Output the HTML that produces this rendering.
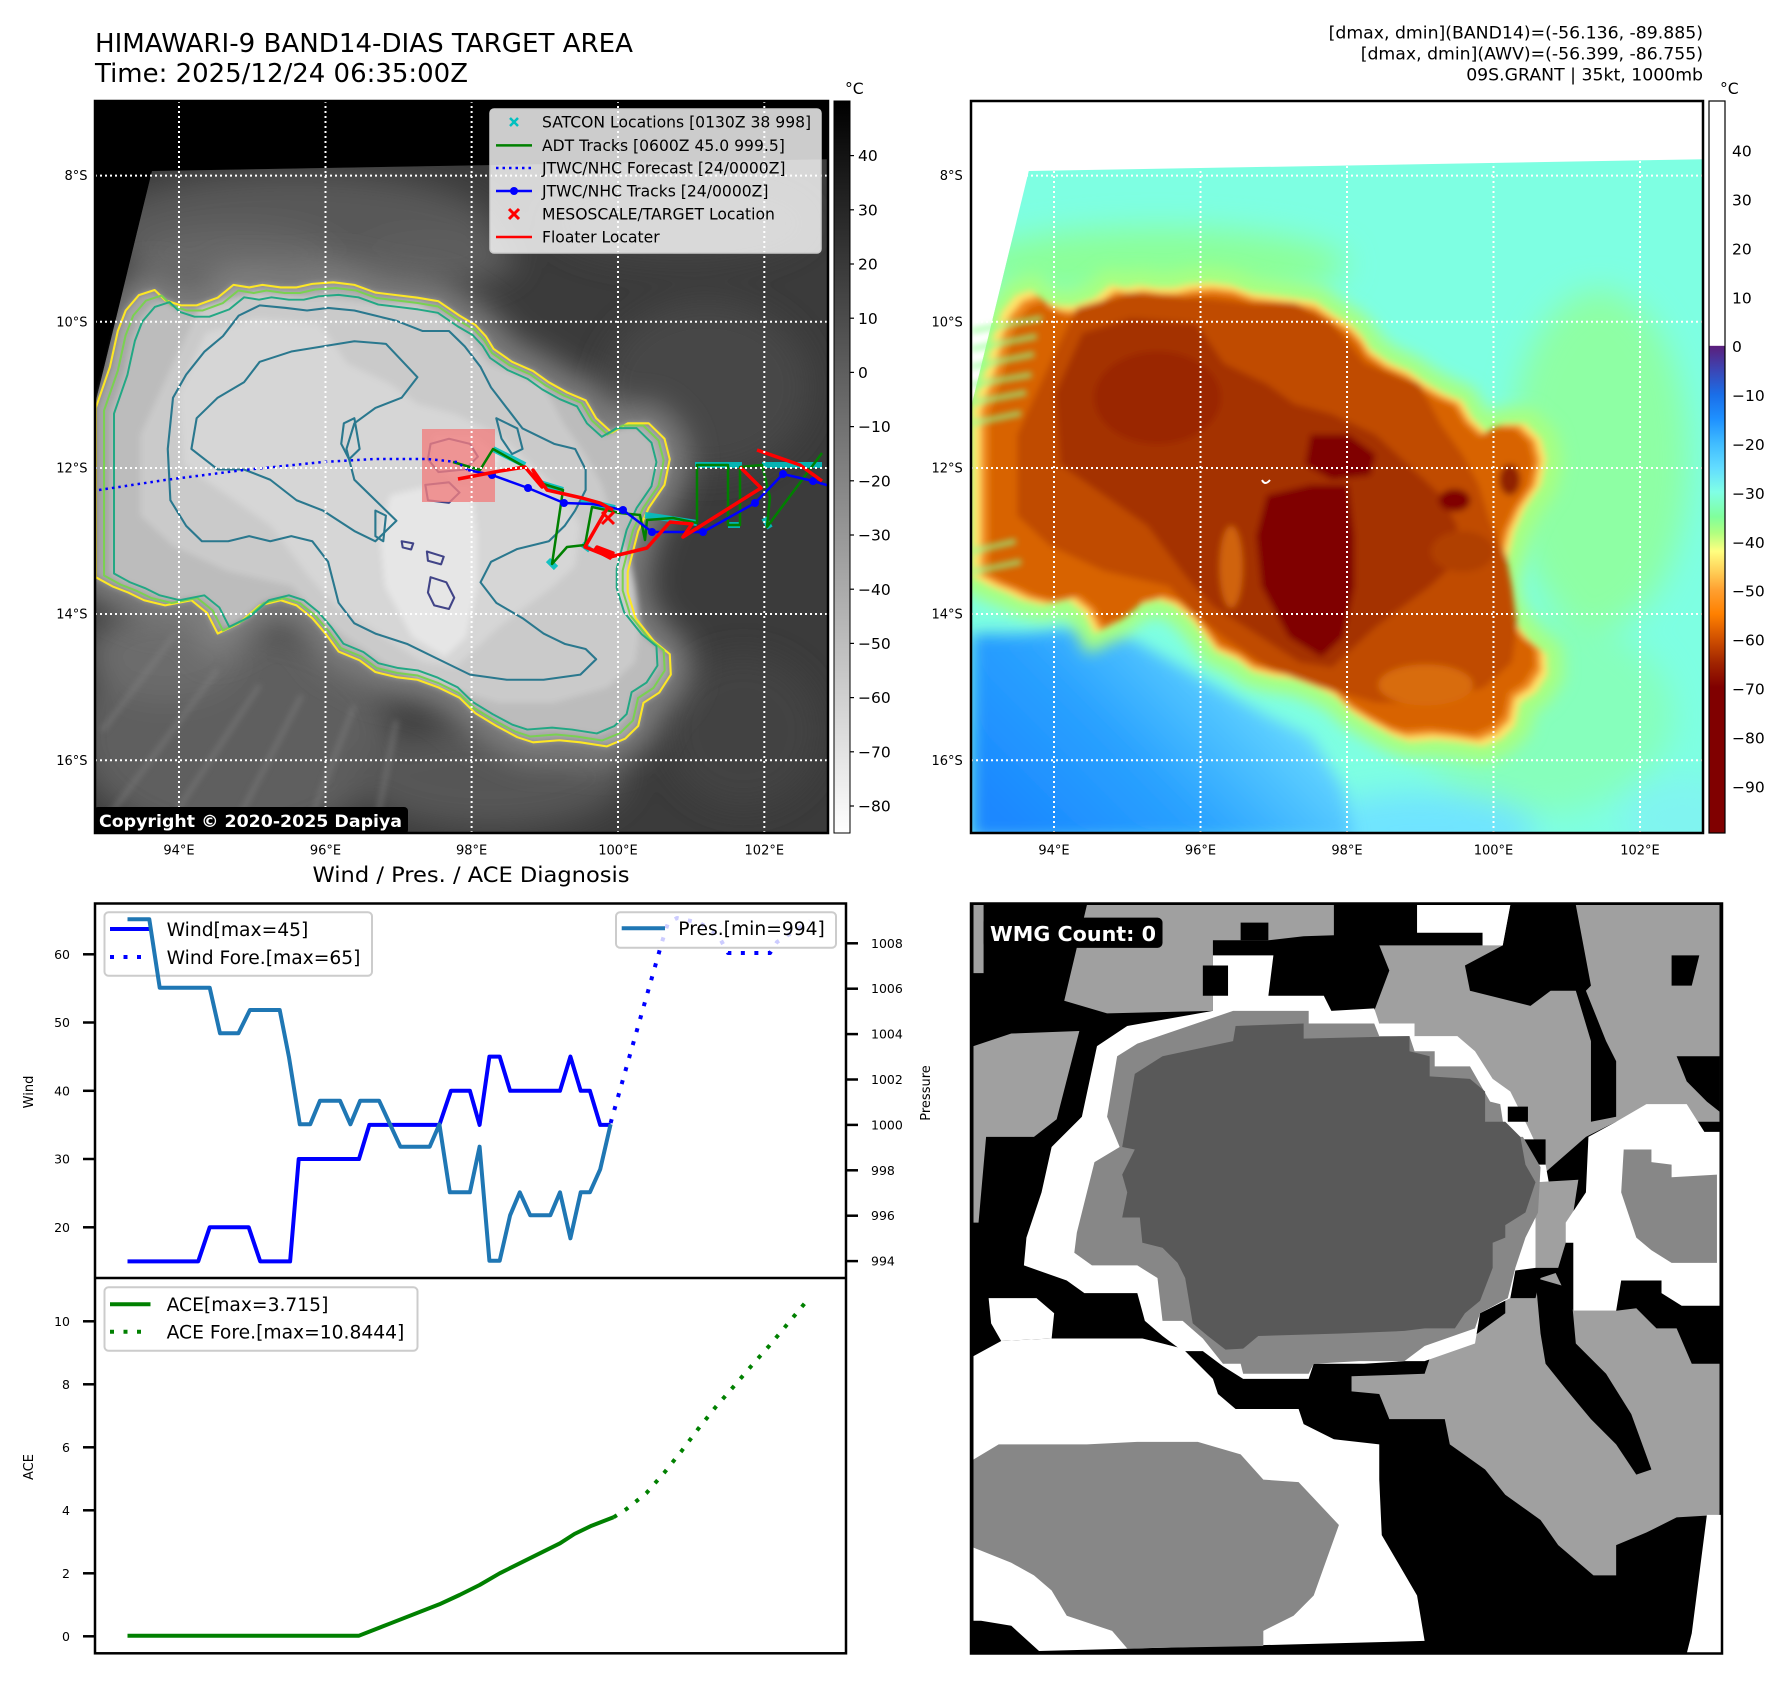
<!DOCTYPE html>
<html><head><meta charset="utf-8">
<style>html,body{margin:0;padding:0;background:#fff;}svg{display:block;font-family:"DejaVu Sans","Liberation Sans",sans-serif;}</style>
</head><body>
<svg width="1788" height="1690" viewBox="0 0 1788 1690" xmlns="http://www.w3.org/2000/svg">
<defs>
 <linearGradient id="cbGray" x1="0" y1="0" x2="0" y2="1"><stop offset="0" stop-color="#000"/><stop offset="1" stop-color="#fff"/></linearGradient>
 <linearGradient id="cbJet" x1="0" y1="0" x2="0" y2="1">
  <stop offset="0" stop-color="#fff"/><stop offset="0.334" stop-color="#fff"/>
  <stop offset="0.335" stop-color="#5b1f7c"/><stop offset="0.367" stop-color="#3c45b4"/>
  <stop offset="0.401" stop-color="#1a6ee8"/><stop offset="0.434" stop-color="#1e90ff"/>
  <stop offset="0.468" stop-color="#40bcff"/><stop offset="0.501" stop-color="#62dcff"/>
  <stop offset="0.534" stop-color="#80ffe6"/><stop offset="0.568" stop-color="#80ff9c"/>
  <stop offset="0.59" stop-color="#b0ff80"/><stop offset="0.615" stop-color="#ffff80"/>
  <stop offset="0.642" stop-color="#ffd058"/><stop offset="0.668" stop-color="#ffa030"/>
  <stop offset="0.701" stop-color="#ff8000"/><stop offset="0.735" stop-color="#d05000"/>
  <stop offset="0.768" stop-color="#a02400"/><stop offset="0.801" stop-color="#800000"/>
  <stop offset="1" stop-color="#800000"/>
 </linearGradient>
 <linearGradient id="blueG" gradientUnits="userSpaceOnUse" x1="150" y1="1440" x2="520" y2="1080">
  <stop offset="0" stop-color="#1a88ff"/><stop offset="0.5" stop-color="#2aa2ff"/><stop offset="1" stop-color="#62d4ff"/>
 </linearGradient>
 <filter id="b6" x="-20%" y="-20%" width="140%" height="140%"><feGaussianBlur stdDeviation="6"/></filter>
 <filter id="b15" x="-30%" y="-30%" width="160%" height="160%"><feGaussianBlur stdDeviation="15"/></filter>
 <filter id="b30" x="-40%" y="-40%" width="180%" height="180%"><feGaussianBlur stdDeviation="30"/></filter>
 <clipPath id="mclip"><rect x="65" y="22" width="1395" height="1426"/></clipPath>
 <clipPath id="dpclip"><path d="M175,158 L1460,135 1460,1448 65,1448 65,620 Z"/></clipPath>
 <clipPath id="wclip"><rect x="20" y="27" width="1490" height="1488"/></clipPath>
 <clipPath id="lmclip"><rect x="95" y="101" width="733" height="732"/></clipPath>
 <clipPath id="llclip"><rect x="95" y="903" width="751" height="750"/></clipPath>
 <path id="Y" d="M68,620 L95,540 110,470 125,430 150,400 180,390 200,410 230,420 260,420 300,405 330,380 360,385 385,380 420,385 450,385 480,378 520,375 560,380 600,395 640,400 680,405 720,412 760,440 790,458 810,480 825,505 860,530 900,548 930,570 965,590 1000,605 1020,640 1050,668 1080,650 1120,650 1150,680 1160,720 1150,770 1120,815 1100,860 1090,900 1080,940 1080,980 1095,1030 1130,1075 1160,1100 1162,1140 1140,1175 1110,1195 1100,1240 1075,1265 1040,1280 990,1272 950,1268 900,1272 870,1262 830,1240 790,1215 760,1185 720,1165 680,1150 640,1145 600,1135 570,1112 530,1095 505,1060 480,1030 450,1005 420,995 380,1005 340,1040 300,1060 280,1020 250,995 200,1005 160,995 130,980 100,968 68,950 Z"/>
 <path id="B" d="M215,533 L266,425 370,395 494,405 587,415 680,415 752,454 814,533 918,573 959,652 1000,711 1031,770 1052,840 1083,909 1094,968 1104,1047 1094,1116 1042,1165 938,1195 835,1195 732,1165 628,1126 545,1067 483,1017 442,968 318,938 215,889 153,830 153,672 Z"/>
 <path id="D" d="M225,593 L277,474 370,445 494,455 546,533 628,573 680,612 752,632 835,672 897,731 959,790 990,850 980,928 938,968 887,1007 835,1047 794,1086 752,1126 690,1116 587,1047 525,1007 473,948 401,850 318,790 235,731 Z"/>
 <path id="CORE" d="M628,790 L711,770 783,770 794,869 794,968 773,1067 732,1106 670,1067 618,968 608,869 Z M711,672 L783,672 835,711 825,751 752,760 701,731 Z"/>
 <path id="DP" d="M175,158 L1460,135 1460,1448 65,1448 65,620 Z"/>
</defs>

<!-- ================= TITLES ================= -->
<text x="95" y="52" font-size="26" textLength="538" lengthAdjust="spacingAndGlyphs">HIMAWARI-9 BAND14-DIAS TARGET AREA</text>
<text x="95" y="82" font-size="26" textLength="373" lengthAdjust="spacingAndGlyphs">Time: 2025/12/24 06:35:00Z</text>
<g font-size="17.3" text-anchor="end">
<text x="1703" y="38.5">[dmax, dmin](BAND14)=(-56.136, -89.885)</text>
<text x="1703" y="59.5">[dmax, dmin](AWV)=(-56.399, -86.755)</text>
<text x="1703" y="80.5">09S.GRANT | 35kt, 1000mb</text>
</g>
<text x="845" y="94" font-size="15.6">°C</text>
<text x="1720" y="94" font-size="15.6">°C</text>

<!-- ================= LEFT MAP ================= -->
<svg x="60" y="90" width="820" height="800" viewBox="0 0 1560 1560" preserveAspectRatio="none">
<g clip-path="url(#mclip)">
 <rect x="0" y="0" width="1560" height="1560" fill="#000"/>
 <use href="#DP" fill="#3b3b3b"/>
 <g clip-path="url(#dpclip)">
 <g filter="url(#b30)">
  <ellipse cx="450" cy="270" rx="380" ry="110" fill="#585858"/>
  <ellipse cx="330" cy="330" rx="200" ry="60" fill="#676767"/>
  <ellipse cx="720" cy="330" rx="150" ry="50" fill="#5e5e5e"/>
  <ellipse cx="1230" cy="580" rx="200" ry="170" fill="#464646"/>
  <ellipse cx="1180" cy="260" rx="250" ry="80" fill="#434343"/>
  <ellipse cx="330" cy="1260" rx="300" ry="210" fill="#5f5f5f"/>
  <ellipse cx="200" cy="1100" rx="150" ry="90" fill="#6c6c6c"/>
  <ellipse cx="820" cy="1340" rx="260" ry="100" fill="#575757"/>
  <ellipse cx="1300" cy="1250" rx="150" ry="150" fill="#424242"/>
 </g>
 <g stroke="#8a8a8a" stroke-width="7" opacity="0.55" filter="url(#b6)">
  <line x1="90" y1="1420" x2="300" y2="1130"/><line x1="200" y1="1440" x2="380" y2="1160"/>
  <line x1="330" y1="1440" x2="460" y2="1180"/><line x1="470" y1="1440" x2="560" y2="1200"/>
  <line x1="600" y1="1440" x2="640" y2="1230"/><line x1="80" y1="1250" x2="220" y2="1060"/>
 </g>
 <use href="#Y" fill="none" stroke="#858585" stroke-width="70" filter="url(#b30)"/>
 </g>
 <g filter="url(#b6)">
  <use href="#Y" fill="#a6a6a6"/>
  <use href="#Y" fill="#bcbcbc" transform="translate(680 820) scale(0.955) translate(-680 -820)"/>
  <use href="#B" fill="#cacaca"/>
  <use href="#D" fill="#d6d6d6"/>
  <use href="#CORE" fill="#e6e6e6"/>
 </g>
 <!-- contours -->
 <g fill="none" stroke-width="4" stroke-linejoin="round">
  <use href="#Y" stroke="#fde725"/>
  <use href="#Y" stroke="#7ad151" transform="translate(700 820) scale(0.975) translate(-700 -820)"/>
  <use href="#Y" stroke="#22a884" transform="translate(700 820) scale(0.945) translate(-700 -820)"/>
  <path stroke="#2a788e" d="M205,700 L215,600 240,555 275,510 310,480 340,440 380,420 430,425 470,430 510,425 560,430 600,440 640,450 690,470 740,470 770,500 800,540 820,580 850,620 880,660 940,690 980,700 1000,740 1000,780 980,820 960,850 930,880 870,895 820,920 800,960 830,1000 880,1030 920,1060 960,1080 1000,1090 1020,1110 990,1140 920,1150 850,1150 780,1140 720,1110 660,1080 600,1060 560,1040 530,1000 520,960 510,920 480,880 440,870 400,880 360,870 320,880 270,880 240,850 210,800 Z"/>
  <path stroke="#2a788e" d="M250,700 L260,640 300,600 350,570 380,530 440,510 500,500 560,490 620,495 680,560 650,600 600,620 560,650 545,700 560,760 600,800 640,840 600,880 560,860 500,820 450,800 400,760 350,740 300,740 Z"/>
  <path stroke="#2a788e" d="M540,650 L560,640 570,700 550,720 535,690 Z M600,820 L620,830 615,880 600,870 Z M830,640 L870,660 880,700 860,710 840,680 Z"/>
  <path stroke="#414487" d="M705,690 L740,680 780,690 795,715 770,740 720,745 700,720 Z M695,770 L740,765 760,785 740,805 700,800 Z M650,880 L672,884 668,896 652,892 Z M698,900 L730,910 725,925 700,918 Z M705,950 L735,960 750,990 740,1012 712,1005 700,980 Z"/>
 </g>
</g>
</svg>
<!-- pink mesoscale box -->
<rect x="422" y="429" width="73" height="73" fill="#f08080" opacity="0.8"/>
<!-- tracks -->
<g clip-path="url(#lmclip)" fill="none" stroke-linejoin="round">
 <g stroke="#00c0c0" stroke-width="6" opacity="0.9">
  <polyline points="493,449 525,465"/><polyline points="540,483 563,490"/>
  <polyline points="645,515 697,523"/><polyline points="695,465 742,465"/>
  <polyline points="762,465 822,465"/><polyline points="728,525 740,525"/>
  <polyline points="581,500 615,508"/><polyline points="764,518 770,528"/>
  <polyline points="548,560 556,568"/><polyline points="582,544 590,550"/>
 </g>
 <polyline stroke="#008000" stroke-width="2.5" points="453,462 480,470 493,449 525,467 540,483 563,490 552,564 567,547 585,545 592,507 620,513 640,515 645,540 647,520 673,518 697,523 697,465 728,465 728,525 740,525 740,467 762,465 770,497 767,527 822,453"/>
 <polyline stroke="#0000ff" stroke-width="2.5" stroke-dasharray="2.5 4" points="99,490 165,480 244,470 323,462 375,459 428,459 457,462 468,470"/>
 <polyline stroke="#0000ff" stroke-width="2.5" points="468,470 492,475 528,488 564,503 593,504 623,510 652,532 703,532 755,503 783,474 813,481 830,486"/>
 <g fill="#0000ff" stroke="none">
  <circle cx="492" cy="475" r="4"/><circle cx="528" cy="488" r="4"/><circle cx="564" cy="503" r="4"/>
  <circle cx="623" cy="510" r="4"/><circle cx="652" cy="532" r="4"/><circle cx="703" cy="532" r="4"/>
  <circle cx="755" cy="503" r="4"/><circle cx="783" cy="474" r="4"/><circle cx="813" cy="481" r="4"/>
 </g>
 <g stroke="#ff0000" stroke-width="3.5">
  <polyline points="458,479 500,471 525,467 542,487 533,470 547,490 582,498 600,503 613,510"/>
  <polyline points="608,507 585,547 610,557 647,548 670,522 692,524 683,537 761,488 740,467"/>
  <polyline points="757,450 800,465 822,481"/>
  <polygon fill="#ff0000" points="597,547 613,553 610,558 595,550"/>
  <path d="M602,512 L614,524 M614,512 L602,524" stroke-width="3"/>
 </g>
</g>
<!-- left map grid -->
<g stroke="#fff" stroke-width="2" stroke-dasharray="2 3" clip-path="url(#lmclip)">
 <line x1="179" y1="101" x2="179" y2="833"/><line x1="325.5" y1="101" x2="325.5" y2="833"/>
 <line x1="471.6" y1="101" x2="471.6" y2="833"/><line x1="618" y1="101" x2="618" y2="833"/>
 <line x1="764.3" y1="101" x2="764.3" y2="833"/>
 <line x1="95" y1="175.6" x2="828" y2="175.6"/><line x1="95" y1="321.8" x2="828" y2="321.8"/>
 <line x1="95" y1="468" x2="828" y2="468"/><line x1="95" y1="614" x2="828" y2="614"/>
 <line x1="95" y1="760.2" x2="828" y2="760.2"/>
</g>
<!-- legend -->
<rect x="490" y="109" width="331" height="144" rx="4" fill="#fff" fill-opacity="0.8" stroke="#cccccc" stroke-width="1.5"/>
<g font-size="15.6">
 <path d="M510,118 L518,126 M518,118 L510,126" stroke="#00c0c0" stroke-width="2.5"/>
 <text x="542" y="127.7">SATCON Locations [0130Z 38 998]</text>
 <line x1="496" y1="145.4" x2="532" y2="145.4" stroke="#008000" stroke-width="2.5"/>
 <text x="542" y="151.1">ADT Tracks [0600Z 45.0 999.5]</text>
 <line x1="496" y1="168" x2="532" y2="168" stroke="#0000ff" stroke-width="2.5" stroke-dasharray="2.5 4"/>
 <text x="542" y="173.7">JTWC/NHC Forecast [24/0000Z]</text>
 <line x1="496" y1="191" x2="532" y2="191" stroke="#0000ff" stroke-width="2.5"/>
 <circle cx="514" cy="191" r="4" fill="#0000ff"/>
 <text x="542" y="196.7">JTWC/NHC Tracks [24/0000Z]</text>
 <path d="M509,209 L519,219 M519,209 L509,219" stroke="#ff0000" stroke-width="3"/>
 <text x="542" y="219.7">MESOSCALE/TARGET Location</text>
 <line x1="496" y1="237" x2="532" y2="237" stroke="#ff0000" stroke-width="2.5"/>
 <text x="542" y="242.7">Floater Locater</text>
</g>
<!-- copyright -->
<rect x="94" y="807" width="314" height="27" rx="4" fill="#000"/>
<text x="99" y="827" font-size="17.3" font-weight="bold" fill="#fff" textLength="303" lengthAdjust="spacingAndGlyphs">Copyright © 2020-2025 Dapiya</text>
<rect x="95" y="101" width="733" height="732" fill="none" stroke="#000" stroke-width="2.5"/>
<!-- left colorbar -->
<rect x="834" y="101" width="16" height="732" fill="url(#cbGray)" stroke="#000" stroke-width="1"/>
<g stroke="#000" stroke-width="1.2">
 <line x1="850" y1="155.6" x2="854" y2="155.6"/><line x1="850" y1="209.8" x2="854" y2="209.8"/>
 <line x1="850" y1="264" x2="854" y2="264"/><line x1="850" y1="318.2" x2="854" y2="318.2"/>
 <line x1="850" y1="372.4" x2="854" y2="372.4"/><line x1="850" y1="426.6" x2="854" y2="426.6"/>
 <line x1="850" y1="480.8" x2="854" y2="480.8"/><line x1="850" y1="535" x2="854" y2="535"/>
 <line x1="850" y1="589.2" x2="854" y2="589.2"/><line x1="850" y1="643.4" x2="854" y2="643.4"/>
 <line x1="850" y1="697.6" x2="854" y2="697.6"/><line x1="850" y1="751.8" x2="854" y2="751.8"/>
 <line x1="850" y1="806" x2="854" y2="806"/>
</g>
<g font-size="15.5">
 <text x="858" y="161.2">40</text><text x="858" y="215.4">30</text><text x="858" y="269.6">20</text>
 <text x="858" y="323.8">10</text><text x="858" y="378">0</text><text x="858" y="432.2">−10</text>
 <text x="858" y="486.4">−20</text><text x="858" y="540.6">−30</text><text x="858" y="594.8">−40</text>
 <text x="858" y="649">−50</text><text x="858" y="703.2">−60</text><text x="858" y="757.4">−70</text>
 <text x="858" y="811.6">−80</text>
</g>
<!-- map ticks -->
<g font-size="13" text-anchor="end">
 <text x="87.5" y="180.2">8°S</text><text x="87.5" y="326.4">10°S</text><text x="87.5" y="472.6">12°S</text>
 <text x="87.5" y="618.6">14°S</text><text x="87.5" y="764.8">16°S</text>
 <text x="962.8" y="180.2">8°S</text><text x="962.8" y="326.4">10°S</text><text x="962.8" y="472.6">12°S</text>
 <text x="962.8" y="618.6">14°S</text><text x="962.8" y="764.8">16°S</text>
</g>
<g font-size="13" text-anchor="middle">
 <text x="179" y="854.5">94°E</text><text x="325.5" y="854.5">96°E</text><text x="471.6" y="854.5">98°E</text>
 <text x="618" y="854.5">100°E</text><text x="764.3" y="854.5">102°E</text>
 <text x="1054" y="854.5">94°E</text><text x="1200.5" y="854.5">96°E</text><text x="1347" y="854.5">98°E</text>
 <text x="1493.5" y="854.5">100°E</text><text x="1640" y="854.5">102°E</text>
</g>

<!-- ================= RIGHT MAP ================= -->
<svg x="936.8" y="90" width="820" height="800" viewBox="0 0 1560 1560" preserveAspectRatio="none">
<g clip-path="url(#mclip)">
 <rect x="0" y="0" width="1560" height="1560" fill="#fff"/>
 <use href="#DP" fill="#7effe2"/>
 <g clip-path="url(#dpclip)">
 <g filter="url(#b30)">
  <ellipse cx="420" cy="340" rx="360" ry="70" fill="#8cff98"/>
  <ellipse cx="1260" cy="720" rx="170" ry="330" fill="#8effa4"/>
  <ellipse cx="1150" cy="1220" rx="250" ry="190" fill="#86ffbc"/>
  <ellipse cx="920" cy="1440" rx="220" ry="70" fill="#70e4ff"/>
  <ellipse cx="1420" cy="1420" rx="120" ry="80" fill="#80f4f0"/>
 </g>
 <path d="M65,1060 L163,1060 318,1040 422,1100 525,1160 628,1220 711,1260 773,1360 794,1460 65,1460 Z" fill="url(#blueG)" filter="url(#b15)"/>
 <use href="#Y" fill="none" stroke="#a8ff80" stroke-width="60" filter="url(#b15)"/>
 </g>
 <g filter="url(#b6)">
  <use href="#Y" fill="#ffe46a"/>
  <use href="#Y" fill="#f08a1c" transform="translate(680 820) scale(0.975) translate(-680 -820)"/>
  <use href="#Y" fill="#d86400" transform="translate(680 820) scale(0.95) translate(-680 -820)"/>
  <use href="#B" fill="#c04c00"/>
  <use href="#D" fill="#a43000"/>
  <use href="#CORE" fill="#800000"/>
  <ellipse cx="560" cy="930" rx="22" ry="80" fill="#d06410"/>
  <ellipse cx="930" cy="1160" rx="90" ry="40" fill="#d86c10"/>
  <ellipse cx="985" cy="800" rx="30" ry="22" fill="#800000"/>
  <ellipse cx="1090" cy="760" rx="20" ry="30" fill="#902000"/>
  <ellipse cx="1000" cy="900" rx="60" ry="40" fill="#b04000"/>
  <ellipse cx="420" cy="600" rx="120" ry="90" fill="#9a2800"/>
 </g>
 <g stroke="#90ff90" stroke-width="10" opacity="0.75" filter="url(#b6)">
  <line x1="66" y1="470" x2="200" y2="445"/><line x1="66" y1="505" x2="190" y2="480"/>
  <line x1="66" y1="540" x2="185" y2="515"/><line x1="66" y1="575" x2="180" y2="555"/>
  <line x1="66" y1="610" x2="170" y2="590"/><line x1="66" y1="650" x2="160" y2="630"/>
  <line x1="66" y1="900" x2="150" y2="880"/><line x1="66" y1="940" x2="160" y2="920"/>
 </g>
</g>
</svg>
<g stroke="#fff" stroke-width="2" stroke-dasharray="2 3">
 <line x1="1054" y1="101" x2="1054" y2="833"/><line x1="1200.5" y1="101" x2="1200.5" y2="833"/>
 <line x1="1347" y1="101" x2="1347" y2="833"/><line x1="1493.5" y1="101" x2="1493.5" y2="833"/>
 <line x1="1640" y1="101" x2="1640" y2="833"/>
 <line x1="971" y1="175.6" x2="1703" y2="175.6"/><line x1="971" y1="321.8" x2="1703" y2="321.8"/>
 <line x1="971" y1="468" x2="1703" y2="468"/><line x1="971" y1="614" x2="1703" y2="614"/>
 <line x1="971" y1="760.2" x2="1703" y2="760.2"/>
</g>
<path d="M1262,480 q3,6 8,0" fill="none" stroke="#fff" stroke-width="2"/>
<rect x="971" y="101" width="732" height="732" fill="none" stroke="#000" stroke-width="2.5"/>
<rect x="1709" y="101" width="16" height="732" fill="url(#cbJet)" stroke="#000" stroke-width="1.2"/>
<g font-size="15.5">
 <text x="1732" y="156.6">40</text><text x="1732" y="205.5">30</text><text x="1732" y="254.4">20</text>
 <text x="1732" y="303.3">10</text><text x="1732" y="352.2">0</text><text x="1732" y="401.1">−10</text>
 <text x="1732" y="450">−20</text><text x="1732" y="498.9">−30</text><text x="1732" y="547.8">−40</text>
 <text x="1732" y="596.7">−50</text><text x="1732" y="645.6">−60</text><text x="1732" y="694.5">−70</text>
 <text x="1732" y="743.4">−80</text><text x="1732" y="792.3">−90</text>
</g>

<!-- ================= LOWER LEFT CHART ================= -->
<text x="471" y="882" font-size="21.7" text-anchor="middle" textLength="317" lengthAdjust="spacingAndGlyphs">Wind / Pres. / ACE Diagnosis</text>
<g clip-path="url(#llclip)" fill="none" stroke-linejoin="round">
 <polyline stroke="#0000ff" stroke-width="4" points="127.5,1261.4 198.2,1261.4 209.7,1227.3 248.7,1227.3 260.2,1261.4 290.1,1261.4 298.7,1159 359,1159 369.3,1124.9 439.4,1124.9 450.9,1090.8 469.9,1090.8 479.6,1124.9 489.4,1056.6 499.7,1056.6 510.1,1090.8 560,1090.8 570.4,1056.6 580.7,1090.8 589.9,1090.8 600.2,1124.9 610.6,1124.9"/>
 <polyline stroke="#0000ff" stroke-width="4" stroke-dasharray="4 9.5" points="610.6,1123 662,942 668,923 677,918 700,923 718,935 728,953 770,953 777,942 810,921"/>
</g>
<rect x="104.5" y="912.3" width="267.5" height="63.4" rx="4" fill="#fff" fill-opacity="0.8" stroke="#cccccc" stroke-width="2"/>
<line x1="110" y1="929" x2="150.5" y2="929" stroke="#0000ff" stroke-width="4"/>
<line x1="110" y1="957" x2="150.5" y2="957" stroke="#0000ff" stroke-width="4" stroke-dasharray="4 9.5"/>
<g font-size="18.7">
 <text x="166.6" y="935.8">Wind[max=45]</text>
 <text x="166.6" y="963.8">Wind Fore.[max=65]</text>
</g>
<g clip-path="url(#llclip)">
 <polyline fill="none" stroke="#1f77b4" stroke-width="4" stroke-linejoin="round" points="127.5,919.3 149.3,919.3 159.7,987.7 209.7,987.7 220,1033.3 238.4,1033.3 249.9,1010 279.7,1010 288.9,1056.7 299.8,1124.3 310.2,1124.3 320,1100.7 340,1100.7 350.4,1124.3 360.2,1100.7 379.1,1100.7 400.4,1146.7 429.7,1146.7 439.4,1124.3 449.8,1192.3 469.9,1192.3 479.6,1146.7 489.4,1260.7 499.7,1260.7 510.1,1215.3 519.8,1192.3 530.2,1215.3 550.3,1215.3 560,1192.3 570.4,1238.3 580.7,1192.3 589.9,1192.3 600.2,1169.3 610.6,1124.3"/>
</g>
<rect x="616" y="912.3" width="220" height="35.4" rx="4" fill="#fff" fill-opacity="0.8" stroke="#cccccc" stroke-width="2"/>
<line x1="621.7" y1="928.3" x2="665" y2="928.3" stroke="#1f77b4" stroke-width="4"/>
<text x="678.3" y="935" font-size="18.7">Pres.[min=994]</text>
<g clip-path="url(#llclip)" fill="none" stroke-linejoin="round">
 <polyline stroke="#008000" stroke-width="4" points="127.5,1635.7 359,1635.7 390.6,1623.3 439.4,1604.3 459.5,1595 479.6,1585 499.7,1573.3 560,1543.3 574.4,1534 591.6,1525.7 613.5,1517.3"/>
 <polyline stroke="#008000" stroke-width="4" stroke-dasharray="4 9.5" points="613.5,1517.3 626.1,1509.3 646.2,1493.3 664.6,1472.3 681.8,1450.7 697.9,1429.3 715.1,1407.7 733.5,1386.7 751.3,1366 769.7,1345.3 787.5,1324 805.3,1302.7"/>
</g>
<rect x="104.5" y="1287.3" width="313" height="63.4" rx="4" fill="#fff" fill-opacity="0.8" stroke="#cccccc" stroke-width="2"/>
<line x1="110" y1="1304.3" x2="150.5" y2="1304.3" stroke="#008000" stroke-width="4"/>
<line x1="110" y1="1331.7" x2="150.5" y2="1331.7" stroke="#008000" stroke-width="4" stroke-dasharray="4 9.5"/>
<g font-size="18.7">
 <text x="166.6" y="1311.1">ACE[max=3.715]</text>
 <text x="166.6" y="1338.5">ACE Fore.[max=10.8444]</text>
</g>
<rect x="95" y="903.5" width="751" height="749.8" fill="none" stroke="#000" stroke-width="2.5"/>
<line x1="95" y1="1278" x2="846" y2="1278" stroke="#000" stroke-width="2.5"/>
<g stroke="#000" stroke-width="2.5">
 <line x1="83" y1="954.3" x2="95" y2="954.3"/><line x1="83" y1="1022.5" x2="95" y2="1022.5"/>
 <line x1="83" y1="1090.8" x2="95" y2="1090.8"/><line x1="83" y1="1159" x2="95" y2="1159"/>
 <line x1="83" y1="1227.3" x2="95" y2="1227.3"/>
 <line x1="83" y1="1321.3" x2="95" y2="1321.3"/><line x1="83" y1="1384.3" x2="95" y2="1384.3"/>
 <line x1="83" y1="1447.3" x2="95" y2="1447.3"/><line x1="83" y1="1510.3" x2="95" y2="1510.3"/>
 <line x1="83" y1="1573.3" x2="95" y2="1573.3"/><line x1="83" y1="1636.3" x2="95" y2="1636.3"/>
 <line x1="846" y1="943.3" x2="858" y2="943.3"/><line x1="846" y1="988.7" x2="858" y2="988.7"/>
 <line x1="846" y1="1034.1" x2="858" y2="1034.1"/><line x1="846" y1="1079.5" x2="858" y2="1079.5"/>
 <line x1="846" y1="1124.9" x2="858" y2="1124.9"/><line x1="846" y1="1170.3" x2="858" y2="1170.3"/>
 <line x1="846" y1="1215.7" x2="858" y2="1215.7"/><line x1="846" y1="1261.1" x2="858" y2="1261.1"/>
</g>
<g font-size="12.5" text-anchor="end">
 <text x="70" y="958.8">60</text><text x="70" y="1027">50</text><text x="70" y="1095.3">40</text>
 <text x="70" y="1163.5">30</text><text x="70" y="1231.8">20</text>
 <text x="70" y="1325.8">10</text><text x="70" y="1388.8">8</text><text x="70" y="1451.8">6</text>
 <text x="70" y="1514.8">4</text><text x="70" y="1577.8">2</text><text x="70" y="1640.8">0</text>
</g>
<g font-size="12.5">
 <text x="871" y="947.8">1008</text><text x="871" y="993.2">1006</text><text x="871" y="1038.6">1004</text>
 <text x="871" y="1084">1002</text><text x="871" y="1129.4">1000</text><text x="871" y="1174.8">998</text>
 <text x="871" y="1220.2">996</text><text x="871" y="1265.6">994</text>
</g>
<g font-size="13" text-anchor="middle">
 <text transform="translate(33 1092) rotate(-90)">Wind</text>
 <text transform="translate(33 1467) rotate(-90)">ACE</text>
 <text transform="translate(930 1093) rotate(-90)">Pressure</text>
</g>

<!-- ================= LOWER RIGHT WMG ================= -->
<svg x="960.9" y="889.9" width="786.3" height="786.3" viewBox="0 0 1560 1560" preserveAspectRatio="none">
<g clip-path="url(#wclip)">
 <rect x="20" y="27" width="1490" height="1488" fill="#000"/>
 <g fill="#a0a0a0">
  <polygon points="25,30 45,30 45,165 25,165"/>
  <polygon points="250,30 740,30 740,90 680,92 610,100 500,100 500,240 290,245 205,220"/>
  <polygon points="830,110 1035,110 1035,85 1090,30 1505,30 1505,460 1300,460 1240,490 1160,560 1120,460 1050,370 1010,350 940,320 900,290 830,265 820,240 850,160"/>
  <polygon points="25,310 100,285 235,280 190,455 145,490 50,490 35,660 25,660"/>
 </g>
 <g fill="#000">
  <polygon points="555,65 610,65 610,100 555,100"/>
  <polygon points="1090,30 1220,30 1250,190 1240,200 1280,300 1300,340 1300,450 1250,460 1250,300 1220,200 1170,200 1130,230 1010,200 1000,150 1075,110"/>
  <polygon points="1410,130 1465,130 1450,190 1410,190"/>
  <polygon points="1420,330 1505,330 1505,440 1480,420 1440,380"/>
 </g>
 <polygon fill="#fff" points="905,30 1090,30 1075,110 1035,110 1035,85 905,85"/>
 <polygon fill="#a0a0a0" points="775,965 920,960 930,930 1025,880 1080,840 1080,810 1140,810 1150,770 1180,760 1215,835 1300,835 1340,830 1380,870 1420,870 1450,940 1505,940 1505,1240 1420,1245 1360,1275 1300,1300 1300,1360 1255,1360 1220,1330 1185,1300 1150,1250 1080,1200 1040,1150 970,1100 960,1050 850,1050 830,1000 775,995"/>
 <polygon fill="#000" points="1140,770 1210,790 1220,900 1280,960 1330,1040 1370,1150 1340,1160 1300,1100 1250,1050 1200,990 1160,940 1150,880"/>
 <polygon fill="#fff" points="500,130 620,130 610,210 720,210 735,240 820,235 830,265 900,265 900,290 985,290 1020,320 1055,375 1090,400 1120,460 1160,545 1170,600 1145,700 1140,750 1100,755 1090,810 1030,840 1020,900 920,935 880,935 800,940 700,940 690,970 560,970 520,945 480,915 440,915 400,885 365,855 350,800 245,800 210,775 125,745 130,690 160,600 180,510 240,450 270,310 330,270 500,240"/>
 <polygon fill="#000" points="480,150 530,150 530,210 480,210"/>
 <polygon fill="#000" points="1085,430 1125,430 1125,460 1085,460"/>
 <polygon fill="#000" points="1115,495 1160,495 1160,545 1115,545"/>
 <polygon fill="#a0a0a0" points="1140,580 1225,575 1215,640 1200,700 1185,750 1140,750"/>
 <polygon fill="#fff" points="1300,460 1360,425 1440,425 1475,480 1505,480 1505,825 1430,825 1390,800 1390,775 1310,775 1300,835 1215,835 1215,700 1200,700 1200,660 1240,600 1245,490"/>
 <polygon fill="#878787" points="1315,515 1370,515 1370,540 1410,545 1410,570 1500,565 1500,740 1410,740 1370,715 1340,690 1310,600"/>
 <polygon fill="#878787" points="350,305 540,240 690,240 690,265 820,265 830,290 890,290 900,320 940,320 940,350 1010,350 1050,420 1070,425 1080,490 1115,490 1150,550 1145,640 1120,690 1100,750 1085,810 1030,840 1020,870 920,905 880,935 790,935 700,940 690,960 560,960 555,940 520,940 480,890 440,855 400,855 390,770 350,745 260,745 225,720 230,680 265,540 315,510 290,450 310,330"/>
 <polygon fill="#595959" points="400,330 540,300 545,270 680,265 680,295 890,290 890,320 930,330 930,370 1010,375 1040,400 1040,460 1080,460 1110,490 1120,545 1140,580 1120,640 1080,665 1080,690 1055,700 1055,750 1030,815 1000,840 980,870 920,870 880,875 755,880 590,885 560,910 525,912 490,885 460,860 455,830 445,770 430,740 400,710 360,700 355,650 320,650 330,600 320,565 345,515 320,510 345,365"/>
 <polygon fill="#fff" points="55,810 150,810 185,840 180,890 80,895 60,860"/>
 <polygon fill="#fff" points="25,925 80,895 180,890 360,890 400,900 440,910 500,970 510,1000 545,1030 670,1030 680,1060 740,1090 830,1100 830,1170 835,1280 870,1340 905,1400 920,1490 155,1510 100,1460 40,1450 25,1450"/>
 <polygon fill="#878787" points="25,1130 75,1100 250,1100 350,1095 470,1095 555,1120 600,1170 670,1175 750,1260 700,1400 660,1440 600,1470 600,1500 330,1505 300,1470 210,1440 180,1390 145,1360 100,1335 25,1305"/>
 <polygon fill="#fff" points="1480,1240 1510,1240 1510,1515 1440,1515 1450,1475"/>
 <rect x="45" y="55" width="355" height="60" rx="10" fill="#000"/>
</g>
</svg>
<text x="990" y="941" font-size="20" font-weight="bold" fill="#fff" textLength="166" lengthAdjust="spacingAndGlyphs">WMG Count: 0</text>
<rect x="971" y="903.5" width="751" height="750" fill="none" stroke="#000" stroke-width="2.5"/>
</svg>
</body></html>
